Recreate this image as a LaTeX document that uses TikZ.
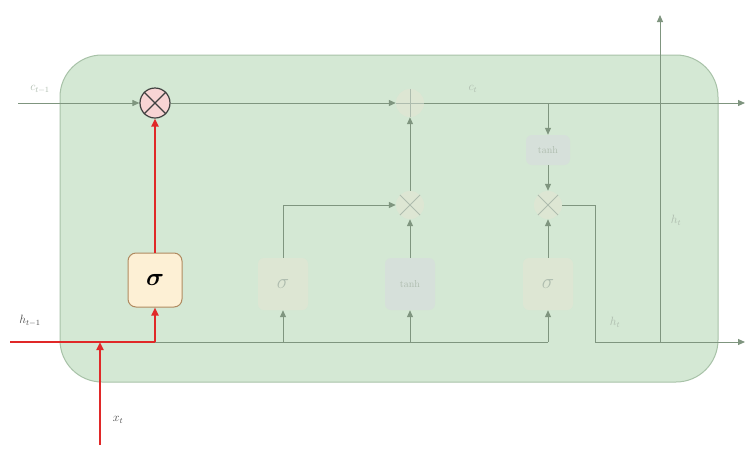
\documentclass[tikz,border=0pt]{standalone}
\usepackage{bm}
\usetikzlibrary{arrows.meta}
\begin{document}
\begin{tikzpicture}[x=1pt,y=-1pt,
  ln/.style={draw=lineg,line width=1pt},
  arr/.style={ln,-{Triangle[length=7pt,width=6pt]}},
  redln/.style={draw=redl,line width=2pt},
  rarr/.style={redln,-{Triangle[length=8pt,width=7pt]}},
  fadebox/.style={draw=none,fill=fadef,minimum width=50pt,minimum height=52pt,rounded corners=6pt,text=fadet,font=\huge},
  fadeop/.style={circle,draw=none,fill=fadef,minimum size=28pt,inner sep=0pt},
  lbl/.style={text=fadet,font=\large}]
\definecolor{cellg}{HTML}{D4E8D4}
\definecolor{celle}{HTML}{A8C2A8}
\definecolor{lineg}{HTML}{7F957F}
\definecolor{redl}{HTML}{E02828}
\definecolor{fadef}{HTML}{DDE6D3}
\definecolor{fadet}{HTML}{AEBCAE}
\definecolor{fadeb}{HTML}{D6E0DA}
\definecolor{sigf}{HTML}{FDF0D5}
\definecolor{sige}{HTML}{B08A60}
\definecolor{pinkf}{HTML}{F8D4D4}
\useasboundingbox (0,0) rectangle (748,448);
\fill[white] (0,0) rectangle (748,448);
% cell
\node[draw=celle,fill=cellg,rounded corners=42pt,minimum width=658pt,minimum height=327pt,line width=1pt] (cell) at (389,218.5) {};
% coordinates
\coordinate (cin) at (18,103);
\coordinate (cout) at (745,103);
\coordinate (hin) at (10,342);
\coordinate (hout) at (745,342);
\coordinate (xin) at (100,445);
\coordinate (xj) at (100,342);
\coordinate (j1) at (155,342);
\coordinate (j2) at (283,342);
\coordinate (j3) at (410,342);
\coordinate (j4) at (548,342);
\coordinate (c3) at (548,103);
\coordinate (o1) at (595,205);
\coordinate (o2) at (595,342);
\coordinate (hv) at (660,342);
\coordinate (htop) at (660,15);
% faded ops
\node[fadeop] (plus) at (410,103) {};
\draw[fadet,line width=0.8pt] (plus.north) -- (plus.south) (plus.west) -- (plus.east);
\node[fadeop] (m2) at (410,205) {};
\draw[fadet,line width=0.8pt] (m2.north west) -- (m2.south east) (m2.north east) -- (m2.south west);
\node[fadeop] (m3) at (548,205) {};
\draw[fadet,line width=0.8pt] (m3.north west) -- (m3.south east) (m3.north east) -- (m3.south west);
\node[fadebox,fill=fadeb,minimum width=44pt,minimum height=30pt,font=\normalsize] (tanh2) at (548,150) {tanh};
% faded gates
\node[fadebox] (sg2) at (283,284) {$\sigma$};
\node[fadebox,font=\normalsize,fill=fadeb] (tanh1) at (410,284) {tanh};
\node[fadebox] (sg3) at (548,284) {$\sigma$};
% highlighted sigma
\node[draw=sige,fill=sigf,line width=1pt,rounded corners=8pt,minimum width=54pt,minimum height=54pt,font=\Huge] (sg1) at (155,280) {$\bm{\sigma}$};
% highlighted multiply
\node[circle,draw=black!75,fill=pinkf,line width=1.2pt,minimum size=30pt,inner sep=0pt] (m1) at (155,103) {};
\draw[black!75,line width=1.2pt] (m1.north west) -- (m1.south east) (m1.north east) -- (m1.south west);
% grey lines
\draw[arr] (cin) -- (m1);
\draw[arr] (m1) -- (plus);
\draw[arr] (plus) -- (cout);
\draw[ln] (j1) -- (j4);
\draw[arr] (j2) -- (sg2);
\draw[arr] (j3) -- (tanh1);
\draw[arr] (j4) -- (sg3);
\draw[arr] (sg2.north) |- (m2);
\draw[arr] (tanh1) -- (m2);
\draw[arr] (m2) -- (plus);
\draw[arr] (sg3) -- (m3);
\draw[arr] (c3) -- (tanh2);
\draw[arr] (tanh2) -- (m3);
\draw[ln] (m3) -- (o1) -- (o2);
\draw[arr] (o2) -- (hout);
\draw[arr] (hv) -- (htop);
% red path
\draw[redln] (hin) -- (j1);
\draw[rarr] (j1) -- (sg1);
\draw[rarr] (sg1) -- (m1);
\draw[rarr] (xin) -- (xj);
% labels
\node[lbl] (lc1) at (40,89) {$c_{t-1}$};
\node[lbl] (lc) at (473,89) {$c_t$};
\node[lbl] (lh2) at (676,220) {$h_t$};
\node[lbl] (lh1) at (615,322) {$h_t$};
\node[font=\large,text=black!70] (lhp) at (30,321) {$h_{t-1}$};
\node[font=\large,text=black!70] (lx) at (118,420) {$x_t$};
\end{tikzpicture}
\end{document}
